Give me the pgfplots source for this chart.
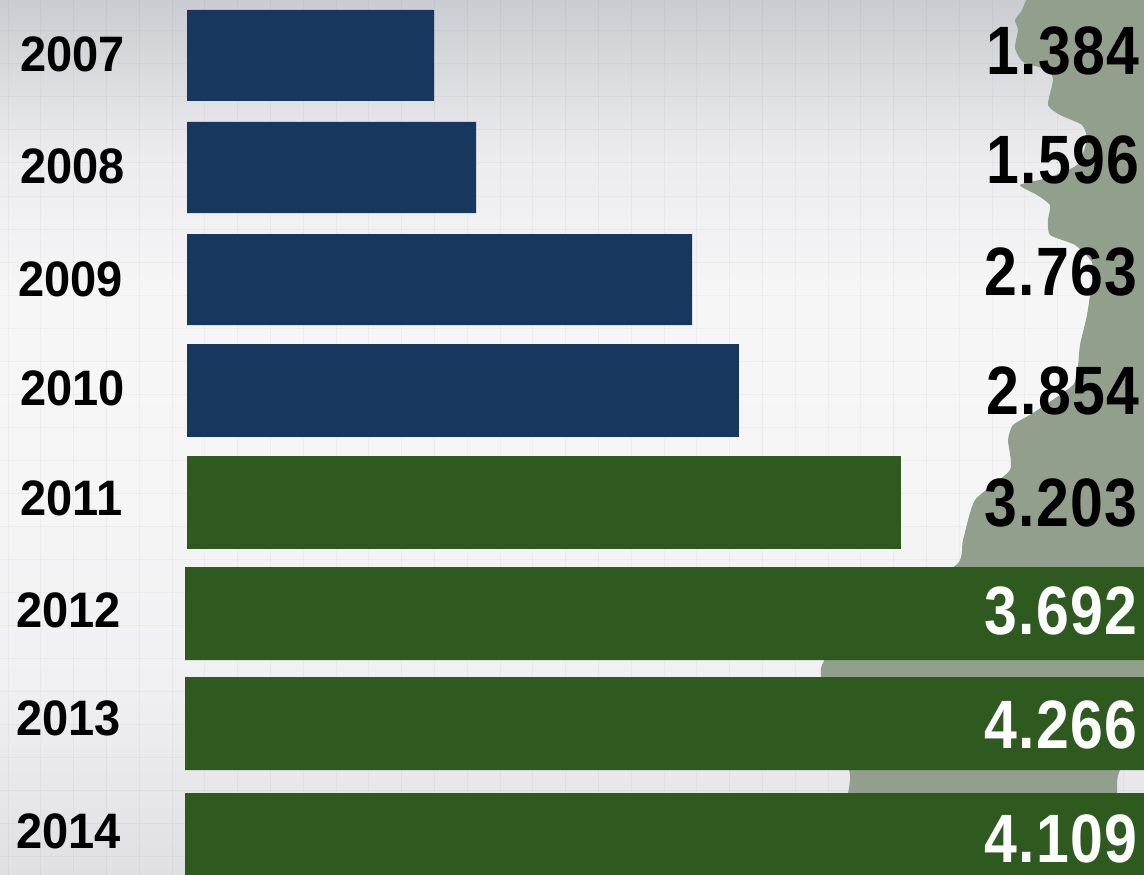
\documentclass[border=0pt]{standalone}
\usepackage{pgfplots}
\pgfplotsset{compat=1.18}
\usepackage{fontspec}
\setmainfont{Liberation Sans}
\newfontfamily\valfont[LetterSpace=2.5]{Liberation Sans}
\definecolor{barblue}{HTML}{17375E}
\definecolor{bargreen}{HTML}{2F5A1F}
\definecolor{sil}{HTML}{929F8C}
\definecolor{g0}{RGB}{224,224,228}
\definecolor{g1}{RGB}{240,240,242}
\definecolor{g2}{RGB}{246,246,247}
\definecolor{g3}{RGB}{245,245,246}
\definecolor{g4}{RGB}{236,236,238}
\definecolor{g5}{RGB}{202,204,209}
\pgfdeclareverticalshading{pagebg}{100bp}{
  color(0bp)=(g0); color(25bp)=(g0);
  color(36bp)=(g1); color(46bp)=(g3); color(58bp)=(g2);
  color(66bp)=(g4); color(75bp)=(g5); color(100bp)=(g5)}
\newcommand{\yr}[1]{\fontsize{47}{50}\selectfont\bfseries\scalebox{1}[1.06]{#1}}
\newcommand{\vl}[1]{\valfont\fontsize{59}{66}\selectfont\bfseries\scalebox{1}[1.16]{#1}}
\begin{document}
\begin{tikzpicture}
\begin{axis}[
  name=ax,
  scale only axis, width=1144pt, height=875pt,
  xmin=-187, xmax=957, ymin=0, ymax=875, y dir=reverse,
  axis line style={draw=none},
  major tick length=0pt, tick style={draw=none},
  xticklabels={}, yticklabels={},
  xtick={-179,-146.2,...,957}, ytick={31,64,...,875},
  grid=major, major grid style={black, opacity=0.03, line width=1pt},
  axis background/.style={shading=pagebg},
  clip=true,
  bar shift=0pt,
]
% green silhouette behind the chart (pixel positions)
\addplot[fill=sil, draw=none, smooth, tension=0.35] coordinates {
 (841,-5)(835,10)(828,20)(831,30)(828,48)(836,62)(861,70)(866,80)(861,105)(873,115)(895,125)
 (900,140)(890,165)(860,178)(833,185)(850,195)(863,205)(861,220)(863,235)(888,245)(905,262)(905,280)
 (900,315)(893,345)(891,365)(886,385)(846,413)(826,425)(821,440)(823,470)(788,500)(776,540)(768,566)
 (680,600)(635,665)(640,700)(663,775)(663,880)(930,880)(930,793)(933,770)(970,700)(970,-5)} -- cycle;
% bar lengths as drawn, in pixels from the bar base
\addplot[xbar, bar width=91pt, fill=barblue, draw=none] coordinates {(247,55.5)(289,167.5)(505,279.5)};
\addplot[xbar, bar width=93pt, fill=barblue, draw=none] coordinates {(552,390.5)};
\addplot[xbar, bar width=93pt, fill=bargreen, draw=none] coordinates {(714,502.5)};
\addplot[xbar, bar width=93pt, fill=bargreen, draw=none, xshift=-2pt] coordinates {(1000,613.5)(1000,723.5)(1000,839.5)};
% year labels
\node[anchor=west,inner sep=0pt] at (axis cs:-167,54) {\yr{2007}};
\node[anchor=west,inner sep=0pt] at (axis cs:-167,166) {\yr{2008}};
\node[anchor=west,inner sep=0pt] at (axis cs:-169,279) {\yr{2009}};
\node[anchor=west,inner sep=0pt] at (axis cs:-167,388) {\yr{2010}};
\node[anchor=west,inner sep=0pt] at (axis cs:-167,498) {\yr{2011}};
\node[anchor=west,inner sep=0pt] at (axis cs:-171,610) {\yr{2012}};
\node[anchor=west,inner sep=0pt] at (axis cs:-171,718) {\yr{2013}};
\node[anchor=west,inner sep=0pt] at (axis cs:-171,831) {\yr{2014}};
% value labels
\node[anchor=east,inner sep=0pt] at (axis cs:953,51) {\vl{1.384}};
\node[anchor=east,inner sep=0pt] at (axis cs:953,160) {\vl{1.596}};
\node[anchor=east,inner sep=0pt] at (axis cs:951,272) {\vl{2.763}};
\node[anchor=east,inner sep=0pt] at (axis cs:953,391) {\vl{2.854}};
\node[anchor=east,inner sep=0pt] at (axis cs:951,503) {\vl{3.203}};
\node[anchor=east,inner sep=0pt,text=white] at (axis cs:951,611) {\vl{3.692}};
\node[anchor=east,inner sep=0pt,text=white] at (axis cs:951,725) {\vl{4.266}};
\node[anchor=east,inner sep=0pt,text=white] at (axis cs:951,839) {\vl{4.109}};
\end{axis}
\pgfresetboundingbox
\path[use as bounding box] (ax.south west) rectangle (ax.north east);
\end{tikzpicture}
\end{document}
